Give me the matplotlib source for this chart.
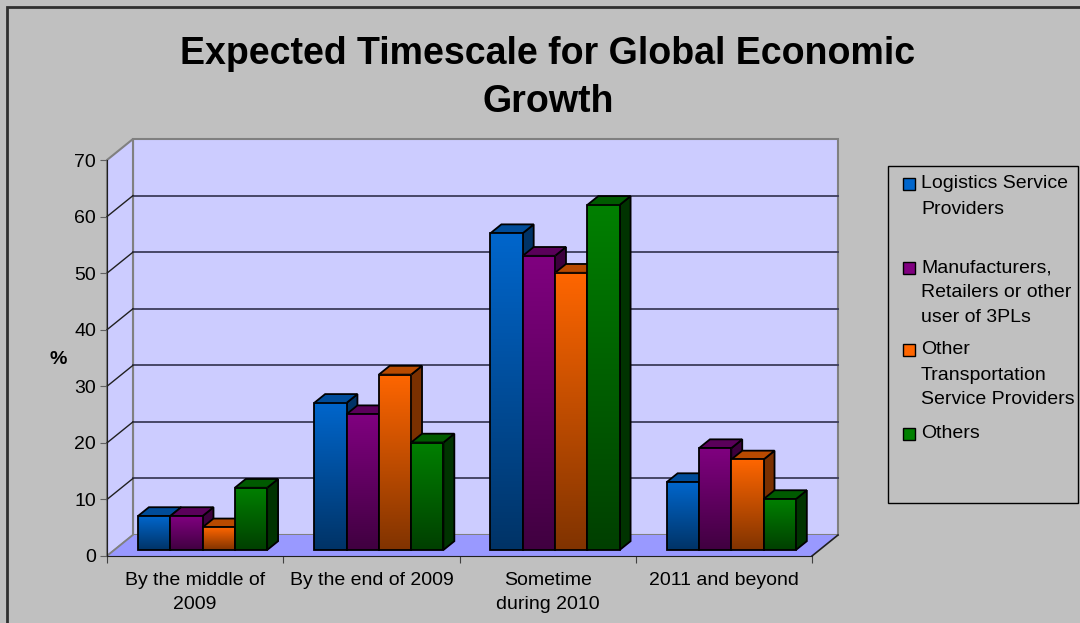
import numpy as np
import matplotlib.pyplot as plt
from matplotlib.patches import Polygon, Rectangle
from matplotlib.colors import LinearSegmentedColormap

plt.rcParams['font.family'] = ['Liberation Sans', 'DejaVu Sans']

categories = ['By the middle of\n2009', 'By the end of 2009', 'Sometime\nduring 2010', '2011 and beyond']
series_names = ['Logistics Service\nProviders',
                'Manufacturers,\nRetailers or other\nuser of 3PLs',
                'Other\nTransportation\nService Providers',
                'Others']
logistics = [6, 26, 56, 12]
manufacturers = [6, 24, 52, 18]
other_transport = [4, 31, 49, 16]
others = [11, 19, 61, 9]
yticks = [0, 10, 20, 30, 40, 50, 60, 70]

values = [logistics, manufacturers, other_transport, others]
front_hi = ['#0066CC', '#800080', '#FF6600', '#008000']
front_lo = ['#003366', '#400040', '#803300', '#003F00']
side_col = ['#003366', '#3C003C', '#7A3000', '#003300']
lid_col = ['#004C99', '#5A005A', '#B84A00', '#005A00']

W, H = 1080, 623
fig = plt.figure(figsize=(W / 100, H / 100), dpi=100)
fig.patch.set_facecolor('#C0C0C0')

# plot frame (front plane of the 3d box) in pixel terms
px0, px1, py_top, py_bot = 107, 812, 160, 556
ax = fig.add_axes([px0 / W, 1 - py_bot / H, (px1 - px0) / W, (py_bot - py_top) / H])
ax.set_facecolor('none')
ymax = 70
DX = 26 / ((px1 - px0) / 4)          # depth offset in category units
DY = 21 / ((py_bot - py_top) / ymax)  # depth offset in value units

wall = '#CCCCFF'
floor = '#9999FF'
edge_gray = '#808080'
grid_col = '#3C3C5A'

# back wall, side wall and floor
ax.add_patch(Polygon([(DX, DY), (4 + DX, DY), (4 + DX, ymax + DY), (DX, ymax + DY)],
                     closed=True, fc=wall, ec=edge_gray, lw=1.5, zorder=0, clip_on=False))
ax.add_patch(Polygon([(0, 0), (DX, DY), (DX, ymax + DY), (0, ymax)],
                     closed=True, fc=wall, ec=edge_gray, lw=1.5, zorder=0, clip_on=False))
ax.add_patch(Polygon([(0, 0), (4, 0), (4 + DX, DY), (DX, DY)],
                     closed=True, fc=floor, ec='none', zorder=0.5, clip_on=False))
ax.plot([4, 4 + DX], [0, DY], color='#202020', lw=1.2, zorder=0.6, clip_on=False)
ax.plot([0, DX], [0, DY], color=edge_gray, lw=1.2, zorder=0.6, clip_on=False)

for yv in yticks[1:-1]:
    ax.plot([DX, 4 + DX], [yv + DY, yv + DY], color=grid_col, lw=1.3, zorder=1, clip_on=False)
    ax.plot([0, DX], [yv, yv + DY], color='#202020', lw=1.0, zorder=1, clip_on=False)

# 3d-looking bars
z0, zd = 0.286, 0.42
group_w = 0.733
bw = group_w / 4
for i in range(len(categories)):
    for s in range(4):
        v = values[s][i]
        x = i + 0.5 - group_w / 2 + s * bw + z0 * DX
        yb = z0 * DY
        ox, oy = zd * DX, zd * DY
        zo = 3 + i * 0.1 + s * 0.01
        ax.add_patch(Polygon([(x + bw, yb), (x + bw + ox, yb + oy), (x + bw + ox, yb + v + oy), (x + bw, yb + v)],
                             closed=True, fc=side_col[s], ec='black', lw=1.3, zorder=zo, clip_on=False))
        ax.add_patch(Polygon([(x, yb + v), (x + bw, yb + v), (x + bw + ox, yb + v + oy), (x + ox, yb + v + oy)],
                             closed=True, fc=lid_col[s], ec='black', lw=1.3, zorder=zo + 0.001, clip_on=False))
        cmap = LinearSegmentedColormap.from_list('g%d' % s, [front_lo[s], front_hi[s]])
        grad = np.linspace(0, 1, 256).reshape(-1, 1)
        ax.imshow(grad, extent=[x, x + bw, yb, yb + v], origin='lower', aspect='auto',
                  cmap=cmap, zorder=zo + 0.002, clip_on=False, interpolation='bilinear')
        ax.add_patch(Rectangle((x, yb), bw, v, fill=False, ec='black', lw=1.3,
                               zorder=zo + 0.003, clip_on=False))

ax.set_xlim(0, 4)
ax.set_ylim(0, ymax)
for side in ['top', 'right']:
    ax.spines[side].set_visible(False)
ax.spines['left'].set_color('#202020')
ax.spines['bottom'].set_color('#202020')
ax.spines['left'].set_zorder(2)
ax.set_yticks(yticks)
ax.set_xticks([0, 1, 2, 3, 4])
ax.set_xticklabels([])
ax.set_xticks([0.5, 1.5, 2.5, 3.5], minor=True)
ax.set_xticklabels(categories, minor=True, fontsize=14, linespacing=1.55)
ax.tick_params(axis='x', which='minor', length=0, pad=11.5)
ax.tick_params(axis='x', which='major', length=5, color='#404040')
ax.tick_params(axis='y', length=5, color='#606060', labelsize=14, pad=3)

fig.text(0.5074, 1 - 78 / H, 'Expected Timescale for Global Economic\nGrowth', ha='center', va='center',
         fontsize=27, fontweight='bold', linespacing=1.4)
fig.text(58 / W, 1 - 360 / H, '%', ha='center', va='center', fontsize=14, fontweight='bold')

# legend box
fig.patches.append(Rectangle((888 / W, 1 - 503 / H), (1078 - 888) / W, (503 - 166) / H,
                             transform=fig.transFigure, fc='#C0C0C0', ec='black', lw=1.0))
leg_y = [184, 268, 350, 434]
for s in range(4):
    fig.patches.append(Rectangle((903 / W, 1 - (leg_y[s] + 6) / H), 12 / W, 12 / H,
                                 transform=fig.transFigure, fc=front_hi[s], ec='black', lw=1.0))
    for k, line in enumerate(series_names[s].split('\n')):
        fig.text(921 / W, 1 - (leg_y[s] + 25 * k) / H, line, ha='left', va='center', fontsize=14)

# outer frame of the chart area
fig.patches.append(Rectangle((7 / W, -0.05), 1.1, 1 - 7 / H + 0.05, transform=fig.transFigure,
                             fill=False, ec='#303030', lw=2))

fig.savefig('out.png', dpi=100, facecolor=fig.get_facecolor())
